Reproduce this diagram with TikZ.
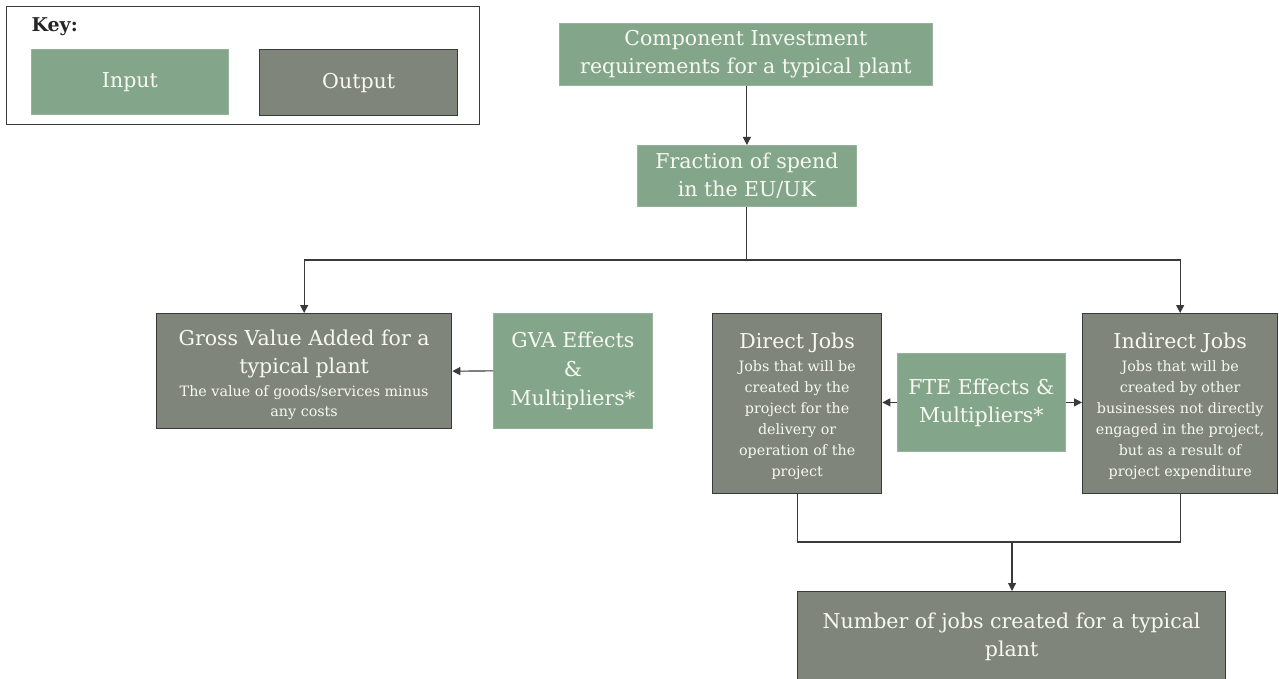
\documentclass[tikz,border=0pt]{standalone}
\usepackage{fontspec}
\setmainfont{DejaVu Serif}
\usetikzlibrary{arrows.meta}
\definecolor{inG}{HTML}{83A68A}
\definecolor{outG}{HTML}{7F857A}
\definecolor{txt}{HTML}{F8F8F3}
\definecolor{ln}{HTML}{3A3A3A}
\newcommand{\tsz}{\fontsize{20.5}{28}\selectfont}
\newcommand{\ssz}{\fontsize{14.3}{21}\selectfont}
\tikzset{
  base/.style={anchor=north west, inner sep=0pt, align=center, text=txt, font=\tsz},
  inbox/.style={base, fill=inG, draw=inG!85!white, line width=0.8pt},
  outbox/.style={base, fill=outG, draw=ln, line width=1.3pt},
  lbl/.style={align=center, text=txt, inner sep=0pt},
  conn/.style={draw=ln, line width=1.1pt},
  arr/.style={conn, -{Triangle[length=8pt,width=8pt]}}
}
\begin{document}
\begin{tikzpicture}[x=1pt,y=-1pt]
\useasboundingbox[fill=white] (0,0) rectangle (1279,679);
% key
\node[draw=ln, line width=1.2pt, anchor=north west, minimum width=473pt, minimum height=118pt, inner sep=0pt] (key) at (6,6) {};
\node[anchor=west, font=\fontsize{19}{22}\selectfont\bfseries, text=black!85] (keyt) at (28,27) {Key:};
\node[inbox, minimum width=197pt, minimum height=65pt] (kin) at (31,49) {Input};
\node[outbox, minimum width=198pt, minimum height=66pt] (kout) at (259,49) {Output};
% main nodes
\node[inbox, minimum width=373pt, minimum height=62pt] (comp) at (559,23) {Component Investment\\requirements for a typical plant};
\node[inbox, minimum width=219pt, minimum height=61pt] (frac) at (637,145) {Fraction of spend\\in the EU/UK};
\node[outbox, minimum width=295pt, minimum height=115pt,
  label={[lbl, font=\tsz, yshift=-4pt]center:{Gross Value Added for a\\typical plant\\[-5pt]{\ssz The value of goods/services minus}\\[-8pt]{\ssz any costs}}}] (gva) at (156,313) {};
\node[inbox, minimum width=159pt, minimum height=115pt] (gvae) at (493,313) {GVA Effects\\[1pt]\&\\[1pt]Multipliers*};
\node[outbox, minimum width=169pt, minimum height=180pt,
  label={[lbl, font=\ssz, yshift=-3pt]center:{{\tsz Direct Jobs}\\[2pt]Jobs that will be\\created by the\\project for the\\delivery or\\operation of the\\project}}] (direct) at (712,313) {};
\node[inbox, minimum width=168pt, minimum height=98pt] (fte) at (897,353) {FTE Effects \&\\Multipliers*};
\node[outbox, minimum width=195pt, minimum height=180pt,
  label={[lbl, font=\ssz, yshift=-3pt]center:{{\tsz Indirect Jobs}\\[2pt]Jobs that will be\\created by other\\businesses not directly\\engaged in the project,\\but as a result of\\project expenditure}}] (indirect) at (1082,313) {};
\node[outbox, minimum width=428pt, minimum height=90pt] (num) at (797,591) {Number of jobs created for a typical\\plant};
% connectors
\coordinate (split) at (746,260);
\coordinate (join) at (1012,542);
\draw[arr] (comp.south -| frac.north) -- (frac.north);
\draw[conn] (frac.south) -- (frac.south |- split);
\draw[arr] (frac.south |- split) -| (gva.north);
\draw[arr] (frac.south |- split) -| (indirect.north);
\draw[arr] (gvae.west) -- (gva.east);
\draw[arr] (fte.west) -- (fte.west -| direct.east);
\draw[arr] (fte.east) -- (fte.east -| indirect.west);
\draw[conn] (direct.south) |- (join) -| (indirect.south);
\draw[arr] (join) -- (join |- num.north);
\end{tikzpicture}
\end{document}
